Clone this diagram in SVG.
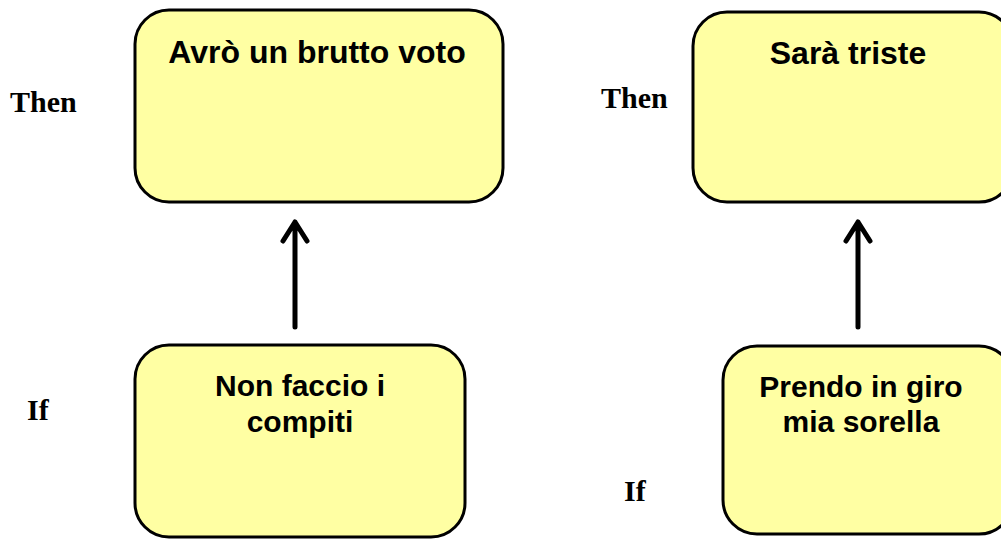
<svg xmlns="http://www.w3.org/2000/svg" width="1001" height="540" viewBox="0 0 1001 540">
<style>
.box{fill:#FFFFA3;stroke:#000;stroke-width:3}
.t{font-family:"Liberation Sans",Arial,sans-serif;font-weight:bold;font-size:32px;text-anchor:middle;fill:#000}
.t2{font-family:"Liberation Sans",Arial,sans-serif;font-weight:bold;font-size:30px;text-anchor:middle;fill:#000}
.lbl{font-family:"Liberation Serif","Times New Roman",serif;font-weight:bold;font-size:30px;fill:#000}
.arr{fill:none;stroke:#000;stroke-width:5;stroke-linecap:round;stroke-linejoin:round}
</style>
<rect width="1001" height="540" fill="#fff"/>
<g id="then1"><rect class="box" x="135" y="10" width="368" height="192" rx="34"/><text class="t" x="317" y="63">Avrò un brutto voto</text></g>
<g id="then2"><rect class="box" x="693" y="12" width="320" height="190" rx="34"/><text class="t" x="848" y="64">Sarà triste</text></g>
<g id="if1"><rect class="box" x="135" y="345" width="330" height="192" rx="34"/><text class="t2" x="300" y="396">Non faccio i</text><text class="t2" x="300" y="432">compiti</text></g>
<g id="if2"><rect class="box" x="723" y="346" width="290" height="188" rx="34"/><text class="t2" x="861" y="397">Prendo in giro</text><text class="t2" x="861" y="432">mia sorella</text></g>
<g id="connectors">
<path class="arr" d="M295,327 V222 M283,241 L295,222 L307,241"/>
<path class="arr" d="M858,327 V222 M846,241 L858,222 L870,241"/>
</g>
<g id="labels">
<text class="lbl" x="10" y="112">Then</text>
<text class="lbl" x="601" y="108">Then</text>
<text class="lbl" x="27" y="420">If</text>
<text class="lbl" x="624" y="501">If</text>
</g>
</svg>
